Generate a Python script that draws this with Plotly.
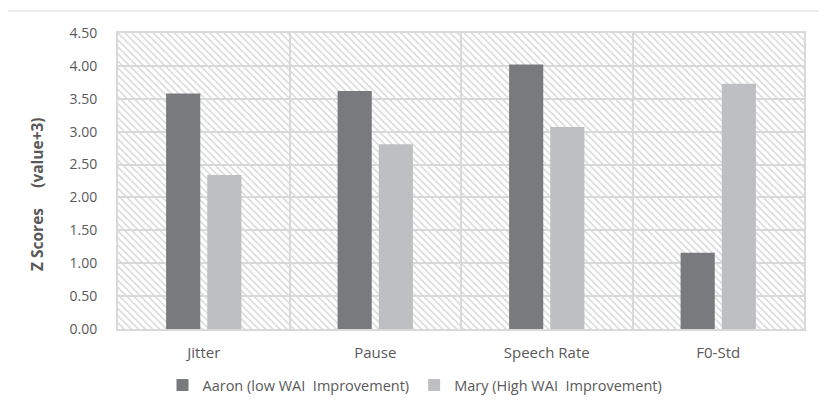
import plotly.graph_objects as go

categories = ["Jitter", "Pause", "Speech Rate", "F0-Std"]
aaron = [3.58, 3.62, 4.02, 1.16]
mary = [2.34, 2.81, 3.07, 3.73]
series_names = ["Aaron (low WAI\u00a0 Improvement)", "Mary (High WAI\u00a0 Improvement)"]
y_ticks = [0, 0.5, 1, 1.5, 2, 2.5, 3, 3.5, 4, 4.5]
y_max = 4.5
y_title = "<b>Z Scores\u00a0\u00a0\u00a0\u00a0 (value+3)</b>"

pos = list(range(len(categories)))
font = "'Open Sans', sans-serif"
txt = "#595959"
OFF = 8  # page body margin
W, H = 827 - OFF, 410 - OFF
L, R, T, B = 118 - OFF, 23, 33 - OFF, 81
PW, PH = W - L - R, H - T - B


def px_x(x):
    return (x - OFF - L) / PW


def px_y(y):
    return (T + PH - (y - OFF)) / PH


fig = go.Figure()
# hatched plot-area background
fig.add_trace(go.Bar(
    x=[(len(categories) - 1) / 2], y=[y_max],
    width=[len(categories)], offset=-len(categories) / 2,
    marker=dict(color="rgba(0,0,0,0)", line=dict(width=0),
                pattern=dict(shape="\\", fgcolor="#d8d8d8", bgcolor="rgba(0,0,0,0)",
                             size=5, solidity=0.3, fillmode="replace")),
    showlegend=False, hoverinfo="skip",
))
fig.add_trace(go.Bar(x=pos, y=aaron, name=series_names[0],
                     marker=dict(color="#797a7d", line=dict(width=0))))
fig.add_trace(go.Bar(x=pos, y=mary, name=series_names[1],
                     marker=dict(color="#bebfc2", line=dict(width=0))))

fig.update_layout(
    width=W, height=H,
    margin=dict(l=L, r=R, t=T, b=B, autoexpand=False),
    paper_bgcolor="white", plot_bgcolor="white",
    barmode="group", bargap=0.52, bargroupgap=0.17,
    font=dict(family=font, size=14, color=txt),
    showlegend=True,
    legend=dict(orientation="h", x=px_x(415), xanchor="center",
                y=px_y(385), yanchor="middle",
                font=dict(size=14.5, color=txt), itemwidth=30, traceorder="normal"),
    xaxis=dict(
        automargin=False,
        range=[-0.5, len(categories) - 0.5],
        tickmode="array", tickvals=pos, ticktext=categories,
        showgrid=False, zeroline=False, ticks="", ticklabelstandoff=9,
        showline=True, linecolor="#d9d9d9", linewidth=2, mirror=True,
        minor=dict(tick0=0.5, dtick=1, showgrid=True, gridcolor="#d9d9d9", gridwidth=1.5, ticks=""),
        tickfont=dict(size=15, color=txt),
    ),
    yaxis=dict(
        automargin=False,
        range=[0, y_max],
        tickmode="array", tickvals=y_ticks, ticktext=[f"{v:.2f}" for v in y_ticks],
        showgrid=True, gridcolor="#d9d9d9", gridwidth=1.5, zeroline=False,
        showline=True, linecolor="#d9d9d9", linewidth=2, mirror=True,
        ticks="", ticklabelstandoff=16, tickfont=dict(size=14, color=txt),
    ),
    annotations=[dict(text=y_title, xref="paper", yref="paper",
                      x=px_x(36.5), y=px_y(194.5),
                      xanchor="center", yanchor="middle", textangle=-90,
                      showarrow=False, font=dict(size=15.5, color=txt))],
    shapes=[
        dict(type="line", xref="paper", yref="paper",
             x0=px_x(6), x1=1.2, y0=px_y(11), y1=px_y(11),
             line=dict(color="#d9d9d9", width=1)),
        dict(type="line", xref="paper", yref="paper",
             x0=px_x(6), x1=px_x(6), y0=px_y(11), y1=-0.5,
             line=dict(color="#d9d9d9", width=1)),
    ],
)

fig.write_html("out.html")
